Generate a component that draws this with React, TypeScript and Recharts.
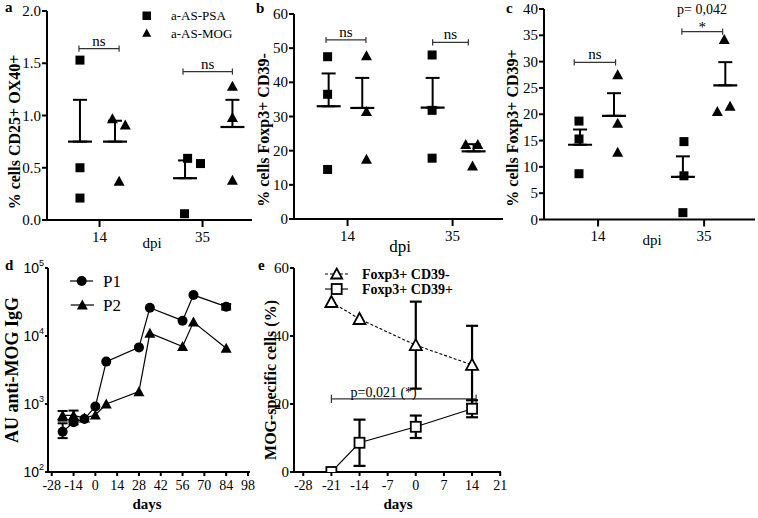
import React from 'react';
import {
  ComposedChart,
  Scatter,
  Line,
  XAxis,
  YAxis,
  ErrorBar,
  ReferenceLine,
  ReferenceDot,
} from 'recharts';

const serif = '"Liberation Serif", "Times New Roman", serif';
const sans = '"Liberation Sans", Arial, sans-serif';

// a-c: time points (dpi)
const groups = ['14', '35'];

// a: % cells CD25+ OX40+
const aPsa = [[1.53, 0.5, 0.21], [0.59, 0.54, 0.06]];
const aMog = [[0.97, 0.91, 0.37], [1.28, 0.98, 0.38]];
const aPsaMean = [0.75, 0.4];
const aPsaSem = [0.4, 0.17];
const aMogMean = [0.75, 0.89];
const aMogSem = [0.2, 0.26];
const aTicks = [0, 0.5, 1, 1.5, 2];

// b: % cells Foxp3+ CD39-
const bPsa = [[47.5, 36.5, 14.5], [48, 31.8, 17.8]];
const bMog = [[47.8, 31.5, 17.5], [21.8, 21.8, 15.5]];
const bPsaMean = [33, 32.6];
const bPsaSem = [9.6, 8.7];
const bMogMean = [32.5, 19.8];
const bMogSem = [8.8, 2.1];
const bTicks = [0, 10, 20, 30, 40, 50, 60];

// c: % cells Foxp3+ CD39+
const cPsa = [[18.7, 15.3, 8.7], [14.8, 8.3, 1.3]];
const cMog = [[27.5, 18.3, 12.8], [34.2, 20.5, 21.5]];
const cPsaMean = [14.2, 8.1];
const cPsaSem = [2.9, 3.9];
const cMogMean = [19.7, 25.5];
const cMogSem = [4.3, 4.4];
const cTicks = [0, 5, 10, 15, 20, 25, 30, 35, 40];

// d: AU anti-MOG IgG
const dDays = [-21, -14, -7, 0, 7, 28, 35, 56, 63, 84];
const p1 = [390, 540, 600, 920, 4200, 6800, 26000, 16800, 40000, 27000];
const p2 = [680, 680, 620, 690, 1000, 1520, 11000, 7000, 16000, 6600];
const p1Err = [[75, 130], [40, 40], null, null, null, null, null, null, null, [2500, 2500]];
const p2Err = [[110, 110], [110, 120], null, null, null, null, null, null, null, null];
const dXTicks = [-28, -14, 0, 14, 28, 42, 56, 70, 84, 98];
const dYTicks = [100, 1000, 10000, 100000];

// e: MOG-specific cells (%)
const eDays = [-21, -14, 0, 14];
const cd39neg = [50, 45, 37.3, 31.5];
const cd39negErr = [null, null, 12.8, 11.5];
const cd39pos = [0, 8.6, 13.3, 18.6];
const cd39posErr = [null, 6.8, 3.3, 2.5];
const eXTicks = [-28, -21, -14, -7, 0, 7, 14, 21];
const eYTicks = [0, 20, 40, 60];

// jitter of the dots around each time point (layout only)
const aLay = {
  psaDots: [[-0.19, -0.19, -0.19], [-0.145, -0.02, -0.175]],
  mogDots: [[0.125, 0.25, 0.19], [0.29, 0.29, 0.29]],
  psaMean: [-0.19, -0.17],
  mogMean: [0.15, 0.29],
};
const bLay = {
  psaDots: [[-0.19, -0.19, -0.19], [-0.195, -0.195, -0.195]],
  mogDots: [[0.18, 0.18, 0.18], [0.125, 0.24, 0.19]],
  psaMean: [-0.18, -0.19],
  mogMean: [0.14, 0.2],
};
const cLay = {
  psaDots: [[-0.18, -0.18, -0.18], [-0.19, -0.19, -0.2]],
  mogDots: [[0.185, 0.185, 0.185], [0.19, 0.125, 0.245]],
  psaMean: [-0.17, -0.2],
  mogMean: [0.15, 0.2],
};

const aBrackets = [
  { x1: 0.8, x2: 1.19, y: 1.64, text: 'ns' },
  { x1: 1.81, x2: 2.29, y: 1.42, text: 'ns' },
];
const bBrackets = [
  { x1: 0.795, x2: 1.175, y: 52.4, text: 'ns' },
  { x1: 1.81, x2: 2.15, y: 51.7, text: 'ns' },
];
const cBrackets = [
  { x1: 0.775, x2: 1.165, y: 29.85, text: 'ns' },
  { x1: 1.79, x2: 2.175, y: 35.7, text: '*' },
];

const axis = { stroke: '#000', strokeWidth: 2 };

// tick text drawn by hand so the serif font and black fill stick
const serifTick = (size: number, fmt?: (v: number) => string) => (p: any) => {
  const v = p.payload.value;
  const dy = p.verticalAnchor === 'start' ? size * 0.72 : size * 0.34;
  return (
    <text
      x={p.x}
      y={p.y}
      dy={dy}
      textAnchor={p.textAnchor}
      fontFamily={serif}
      fontSize={size}
      fill="#000"
    >
      {fmt ? fmt(v) : String(v)}
    </text>
  );
};

const FilledSquare = (p: any) => (
  <rect x={p.cx - 4.5} y={p.cy - 4.5} width={9} height={9} fill="#000" />
);
const FilledTri = (p: any) => (
  <polygon
    points={`${p.cx},${p.cy - 5.5} ${p.cx + 5.5},${p.cy + 4.5} ${p.cx - 5.5},${p.cy + 4.5}`}
    fill="#000"
  />
);
const MeanBar = (p: any) => (
  <line x1={p.cx - 12} x2={p.cx + 12} y1={p.cy} y2={p.cy} stroke="#000" strokeWidth={2.2} />
);
const Nothing = () => <g />;

const yW = 50;
const mt = 12;
const mr = 6;
const xH = 40;

function DotPanel(p: any) {
  const { box } = p;
  const w = yW + box.r - box.l + mr;
  const h = mt + box.b - box.t + xH;
  const cap = (p.yDomain[1] - p.yDomain[0]) * 0.015;
  const dots = (vals: number[][], offs: number[][]) =>
    vals.flatMap((g, gi) => g.map((v, i) => ({ x: gi + 1 + offs[gi][i], y: v })));
  const means = (m: number[], s: number[], offs: number[]) =>
    m.map((v, gi) => ({ x: gi + 1 + offs[gi], y: v, err: [0, s[gi]] }));
  const lbl = { fill: '#000', fontSize: 15, fontFamily: serif };

  return (
    <div style={{ position: 'absolute', left: box.l - yW, top: box.t - mt }}>
      <ComposedChart width={w} height={h} margin={{ top: mt, right: mr, bottom: 0, left: 0 }}>
        <XAxis
          type="number"
          dataKey="x"
          domain={[0.49, 2.48]}
          ticks={[1, 2]}
          interval={0}
          allowDataOverflow
          axisLine={axis}
          tickLine={axis}
          tickSize={7}
          tickMargin={4}
          tick={serifTick(15, (v) => groups[Math.round(v) - 1])}
          height={xH}
        />
        <YAxis
          type="number"
          dataKey="y"
          domain={p.yDomain}
          ticks={p.yTicks}
          interval={0}
          allowDataOverflow
          axisLine={axis}
          tickLine={axis}
          tickSize={5}
          tickMargin={1}
          tick={serifTick(15, p.fmt)}
          width={yW}
        />
        {p.brackets.map((b: any, i: number) => (
          <ReferenceLine
            key={`h${i}`}
            segment={[{ x: b.x1, y: b.y }, { x: b.x2, y: b.y }]}
            stroke="#333"
            strokeWidth={1.2}
            label={{ value: b.text, position: 'top', offset: b.text === '*' ? 0 : 3, ...lbl }}
          />
        ))}
        {p.brackets.flatMap((b: any, i: number) => [
          <ReferenceLine
            key={`l${i}`}
            segment={[{ x: b.x1, y: b.y - cap }, { x: b.x1, y: b.y + cap }]}
            stroke="#333"
            strokeWidth={1.2}
          />,
          <ReferenceLine
            key={`r${i}`}
            segment={[{ x: b.x2, y: b.y - cap }, { x: b.x2, y: b.y + cap }]}
            stroke="#333"
            strokeWidth={1.2}
          />,
        ])}
        {(p.notes || []).map((n: any, i: number) => (
          <ReferenceDot
            key={`n${i}`}
            x={n.x}
            y={n.y}
            r={0}
            fill="none"
            stroke="none"
            label={{ value: n.text, position: 'top', offset: 0, ...lbl, fontSize: 14 }}
          />
        ))}
        <Scatter data={dots(p.psa, p.lay.psaDots)} shape={FilledSquare} isAnimationActive={false} />
        <Scatter data={dots(p.mog, p.lay.mogDots)} shape={FilledTri} isAnimationActive={false} />
        <Scatter
          data={means(p.psaMean, p.psaSem, p.lay.psaMean)}
          shape={MeanBar}
          isAnimationActive={false}
        >
          <ErrorBar dataKey="err" direction="y" width={7} stroke="#000" strokeWidth={2} />
        </Scatter>
        <Scatter
          data={means(p.mogMean, p.mogSem, p.lay.mogMean)}
          shape={MeanBar}
          isAnimationActive={false}
        >
          <ErrorBar dataKey="err" direction="y" width={7} stroke="#000" strokeWidth={2} />
        </Scatter>
      </ComposedChart>
    </div>
  );
}

const PowTick = (p: any) => {
  const e = Math.round(Math.log10(p.payload.value));
  return (
    <text x={p.x} y={p.y} dy={5} textAnchor="end" fontFamily={sans} fontSize={14} fill="#000">
      10
      <tspan dy={-7} fontSize={9}>
        {e}
      </tspan>
    </text>
  );
};

const Dot = (p: any) => <circle key={p.index} cx={p.cx} cy={p.cy} r={5} fill="#000" />;
const TriDot = (p: any) => (
  <polygon
    key={p.index}
    points={`${p.cx},${p.cy - 5.5} ${p.cx + 5.5},${p.cy + 4.5} ${p.cx - 5.5},${p.cy + 4.5}`}
    fill="#000"
  />
);
const OpenTri = (p: any) => (
  <polygon
    key={p.index}
    points={`${p.cx},${p.cy - 6} ${p.cx + 6},${p.cy + 5} ${p.cx - 6},${p.cy + 5}`}
    fill="#fff"
    stroke="#000"
    strokeWidth={1.8}
  />
);
const OpenSq = (p: any) => (
  <rect
    key={p.index}
    x={p.cx - 5}
    y={p.cy - 5}
    width={10}
    height={10}
    fill="#fff"
    stroke="#000"
    strokeWidth={1.8}
  />
);

const series = (xs: number[], ys: number[]) => xs.map((x, i) => ({ x, y: ys[i] }));
const errPts = (xs: number[], ys: number[], errs: any[]) =>
  xs
    .map((x, i) => (errs[i] == null ? null : { x, y: ys[i], err: errs[i] }))
    .filter(Boolean) as any[];

function PanelD() {
  const box = { l: 48, t: 268, r: 250, b: 472 };
  const w = yW + box.r - box.l + mr;
  const h = mt + box.b - box.t + xH;
  return (
    <div style={{ position: 'absolute', left: box.l - yW, top: box.t - mt }}>
      <ComposedChart width={w} height={h} margin={{ top: mt, right: mr, bottom: 0, left: 0 }}>
        <XAxis
          type="number"
          dataKey="x"
          domain={[-30.4, 99.3]}
          ticks={dXTicks}
          interval={0}
          allowDataOverflow
          axisLine={axis}
          tickLine={axis}
          tickSize={4}
          tickMargin={4}
          tick={serifTick(14)}
          height={xH}
        />
        <YAxis
          type="number"
          dataKey="y"
          scale="log"
          domain={[100, 100000]}
          ticks={dYTicks}
          interval={0}
          allowDataOverflow
          axisLine={axis}
          tickLine={axis}
          tickSize={3}
          tickMargin={1}
          tick={PowTick}
          width={yW}
        />
        <Line
          data={series(dDays, p1)}
          dataKey="y"
          stroke="#000"
          strokeWidth={1.2}
          dot={Dot}
          isAnimationActive={false}
        />
        <Line
          data={series(dDays, p2)}
          dataKey="y"
          stroke="#000"
          strokeWidth={1.2}
          dot={TriDot}
          isAnimationActive={false}
        />
        <Scatter data={errPts(dDays, p1, p1Err)} shape={Nothing} isAnimationActive={false}>
          <ErrorBar dataKey="err" direction="y" width={5} stroke="#000" strokeWidth={2} />
        </Scatter>
        <Scatter data={errPts(dDays, p2, p2Err)} shape={Nothing} isAnimationActive={false}>
          <ErrorBar dataKey="err" direction="y" width={5} stroke="#000" strokeWidth={2} />
        </Scatter>
      </ComposedChart>
    </div>
  );
}

function PanelE() {
  const box = { l: 294, t: 268, r: 501, b: 472 };
  const w = yW + box.r - box.l + mr;
  const h = mt + box.b - box.t + xH;
  const cap = 1.2;
  return (
    <div style={{ position: 'absolute', left: box.l - yW, top: box.t - mt }}>
      <ComposedChart width={w} height={h} margin={{ top: mt, right: mr, bottom: 0, left: 0 }}>
        <XAxis
          type="number"
          dataKey="x"
          domain={[-30.3, 21.2]}
          ticks={eXTicks}
          interval={0}
          allowDataOverflow
          axisLine={axis}
          tickLine={axis}
          tickSize={4}
          tickMargin={4}
          tick={serifTick(14)}
          height={xH}
        />
        <YAxis
          type="number"
          dataKey="y"
          domain={[0, 60]}
          ticks={eYTicks}
          interval={0}
          allowDataOverflow
          axisLine={axis}
          tickLine={axis}
          tickSize={4}
          tickMargin={1}
          tick={serifTick(15)}
          width={yW}
        />
        <ReferenceLine
          segment={[{ x: -21, y: 21.5 }, { x: 15, y: 21.5 }]}
          stroke="#333"
          strokeWidth={1.2}
        />
        <ReferenceLine
          segment={[{ x: -21, y: 21.5 - cap }, { x: -21, y: 21.5 + cap }]}
          stroke="#333"
          strokeWidth={1.2}
        />
        <ReferenceLine
          segment={[{ x: 15, y: 21.5 - cap }, { x: 15, y: 21.5 + cap }]}
          stroke="#333"
          strokeWidth={1.2}
        />
        <ReferenceDot
          x={-8}
          y={21.5}
          r={0}
          fill="none"
          stroke="none"
          label={{ value: 'p=0,021 (*)', position: 'top', offset: 2, fill: '#000', fontSize: 14, fontFamily: serif }}
        />
        <Line
          data={series(eDays, cd39neg)}
          dataKey="y"
          stroke="#000"
          strokeWidth={1.1}
          strokeDasharray="3 2"
          dot={OpenTri}
          isAnimationActive={false}
        />
        <Line
          data={series(eDays, cd39pos)}
          dataKey="y"
          stroke="#000"
          strokeWidth={1.1}
          dot={OpenSq}
          isAnimationActive={false}
        />
        <Scatter data={errPts(eDays, cd39neg, cd39negErr)} shape={Nothing} isAnimationActive={false}>
          <ErrorBar dataKey="err" direction="y" width={6} stroke="#000" strokeWidth={2.2} />
        </Scatter>
        <Scatter data={errPts(eDays, cd39pos, cd39posErr)} shape={Nothing} isAnimationActive={false}>
          <ErrorBar dataKey="err" direction="y" width={6} stroke="#000" strokeWidth={2.2} />
        </Scatter>
      </ComposedChart>
    </div>
  );
}

function Overlay() {
  const b = { fontFamily: serif, fontWeight: 700, fill: '#000' } as const;
  const r = { fontFamily: serif, fill: '#000' } as const;
  const yTitle = (x: number, y: number, text: string, size = 16) => (
    <text
      transform={`translate(${x},${y}) rotate(-90)`}
      textAnchor="middle"
      dominantBaseline="central"
      fontSize={size}
      {...b}
    >
      {text}
    </text>
  );
  const tri = (cx: number, cy: number, s: number) =>
    `${cx},${cy - s} ${cx + s},${cy + s * 0.82} ${cx - s},${cy + s * 0.82}`;
  return (
    <svg
      width={758}
      height={518}
      style={{ position: 'absolute', left: 0, top: 0, pointerEvents: 'none' }}
    >
      <text x={5} y={12} fontSize={15} {...b}>a</text>
      <text x={256} y={13} fontSize={15} {...b}>b</text>
      <text x={506} y={13} fontSize={15} {...b}>c</text>
      <text x={5} y={270} fontSize={15} {...b}>d</text>
      <text x={258} y={270} fontSize={15} {...b}>e</text>

      {yTitle(14, 132, '% cells CD25+ OX40+')}
      {yTitle(263, 130, '% cells Foxp3+ CD39-')}
      {yTitle(512, 128, '% cells Foxp3+ CD39+')}
      {yTitle(12, 370, 'AU anti-MOG IgG', 18)}
      {yTitle(270, 380, 'MOG-specific cells (%)')}

      <text x={152} y={243} textAnchor="middle" dominantBaseline="central" fontSize={15} {...r}>dpi</text>
      <text x={400} y={246} textAnchor="middle" dominantBaseline="central" fontSize={17} {...r}>dpi</text>
      <text x={652} y={240} textAnchor="middle" dominantBaseline="central" fontSize={15} {...r}>dpi</text>
      <text x={147} y={509} textAnchor="middle" fontSize={15} {...b}>days</text>
      <text x={398} y={509} textAnchor="middle" fontSize={15} {...b}>days</text>

      {/* legend a */}
      <rect x={142.5} y={11.5} width={8.5} height={8.5} fill="#000" />
      <polygon points={tri(146.7, 33, 4.5)} fill="#000" />
      <text x={171} y={15.5} dominantBaseline="central" fontSize={13} {...r}>a-AS-PSA</text>
      <text x={171} y={33.5} dominantBaseline="central" fontSize={13} {...r}>a-AS-MOG</text>

      {/* legend d */}
      <line x1={70} x2={93} y1={281} y2={281} stroke="#000" strokeWidth={1.2} />
      <circle cx={81.7} cy={281} r={5} fill="#000" />
      <text x={103} y={281} dominantBaseline="central" fontSize={17} {...r}>P1</text>
      <line x1={70.7} x2={94} y1={305} y2={305} stroke="#000" strokeWidth={1.2} />
      <polygon points={tri(82.3, 305, 5.5)} fill="#000" />
      <text x={103} y={305} dominantBaseline="central" fontSize={17} {...r}>P2</text>

      {/* legend e */}
      <line x1={325} x2={348} y1={274} y2={274} stroke="#000" strokeWidth={1.1} strokeDasharray="3 2" />
      <polygon points={tri(336.7, 274, 5.5)} fill="#fff" stroke="#000" strokeWidth={1.8} />
      <text x={362} y={274} dominantBaseline="central" fontSize={14} {...b}>Foxp3+ CD39-</text>
      <line x1={325} x2={348} y1={289} y2={289} stroke="#000" strokeWidth={1.1} />
      <rect x={331.7} y={284} width={10} height={10} fill="#fff" stroke="#000" strokeWidth={1.8} />
      <text x={362} y={289} dominantBaseline="central" fontSize={14} {...b}>Foxp3+ CD39+</text>
    </svg>
  );
}

export default function App() {
  return (
    <div
      style={{
        position: 'absolute',
        left: 0,
        top: 0,
        width: 758,
        height: 518,
        background: '#fff',
        overflow: 'hidden',
        fontFamily: serif,
      }}
    >
      <DotPanel
        box={{ l: 47, t: 11, r: 252, b: 220 }}
        yDomain={[0, 2]}
        yTicks={aTicks}
        fmt={(v: number) => v.toFixed(1)}
        psa={aPsa}
        mog={aMog}
        psaMean={aPsaMean}
        psaSem={aPsaSem}
        mogMean={aMogMean}
        mogSem={aMogSem}
        lay={aLay}
        brackets={aBrackets}
      />
      <DotPanel
        box={{ l: 294, t: 14, r: 503, b: 219 }}
        yDomain={[0, 60]}
        yTicks={bTicks}
        psa={bPsa}
        mog={bMog}
        psaMean={bPsaMean}
        psaSem={bPsaSem}
        mogMean={bMogMean}
        mogSem={bMogSem}
        lay={bLay}
        brackets={bBrackets}
      />
      <DotPanel
        box={{ l: 544, t: 8.5, r: 755, b: 219 }}
        yDomain={[0, 40]}
        yTicks={cTicks}
        psa={cPsa}
        mog={cMog}
        psaMean={cPsaMean}
        psaSem={cPsaSem}
        mogMean={cMogMean}
        mogSem={cMogSem}
        lay={cLay}
        brackets={cBrackets}
        notes={[{ x: 1.98, y: 39.0, text: 'p= 0,042' }]}
      />
      <PanelD />
      <PanelE />
      <Overlay />
    </div>
  );
}
